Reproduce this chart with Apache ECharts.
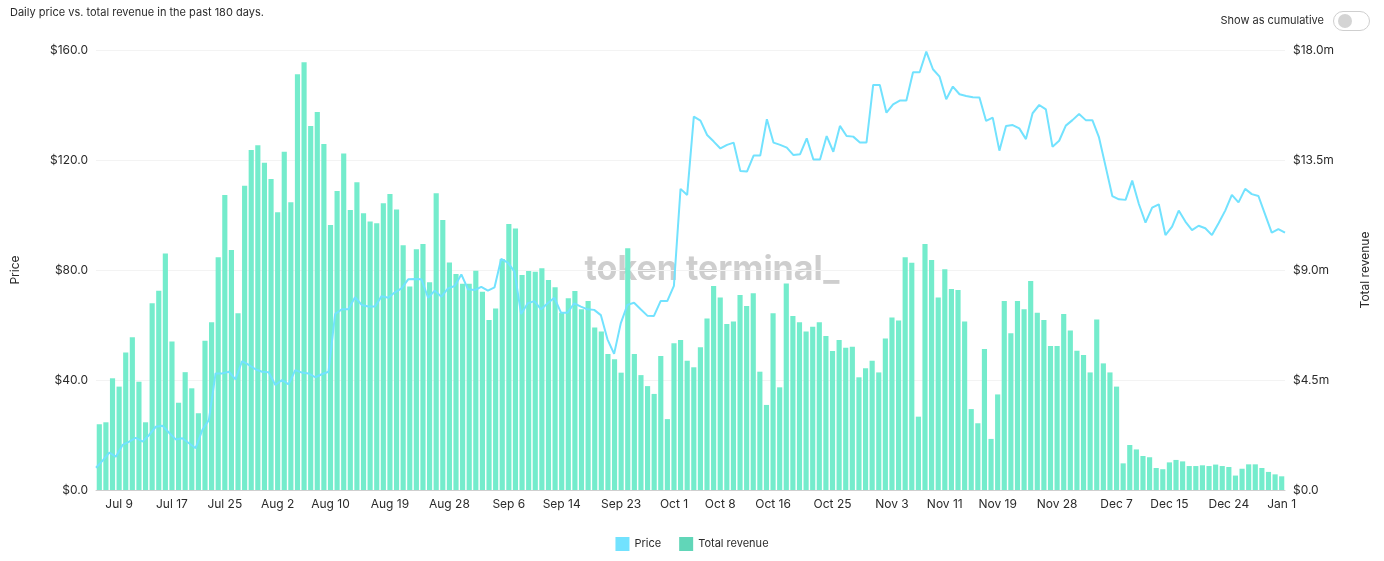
<!DOCTYPE html>
<html>
<head>
<meta charset="utf-8">
<script src="https://cdn.jsdelivr.net/npm/echarts@6/dist/echarts.min.js"></script>
<style>
html,body{margin:0;padding:0;background:#fff;}
#chart{width:1384px;height:561px;}
</style>
</head>
<body>
<div id="chart"></div>
<script>
// ---- data ----
const startDate = [2024, 6, 6]; // Jul 6 (month index 6 = July)
const dayCount = 180;
const tickLabels = ["Jul 9","Jul 17","Jul 25","Aug 2","Aug 10","Aug 19","Aug 28","Sep 6","Sep 14","Sep 23","Oct 1","Oct 8","Oct 16","Oct 25","Nov 3","Nov 11","Nov 19","Nov 28","Dec 7","Dec 15","Dec 24","Jan 1"];
const leftTicks = [0, 40, 80, 120, 160];
const rightTicks = [0, 4.5, 9, 13.5, 18];

// Total revenue, millions USD
const revenue = [
2.69,2.77,4.57,4.23,5.63,6.25,4.43,2.77,7.64,8.15,
9.68,6.07,3.57,4.82,4.16,3.14,6.11,6.86,9.52,12.07,
9.82,7.23,12.45,13.91,14.10,13.39,12.72,11.36,13.84,11.77,
17.01,17.50,14.89,15.46,14.15,10.84,12.23,13.77,11.45,12.59,
11.32,10.98,10.91,11.73,12.11,11.48,10.01,8.32,9.85,10.06,
8.50,12.14,11.05,9.31,8.84,8.44,8.44,8.97,8.11,6.95,
7.43,9.45,10.88,10.70,8.80,8.96,8.93,9.07,8.59,8.29,
7.25,7.84,8.14,7.39,7.73,6.65,6.48,5.56,5.35,4.80,
9.89,5.56,4.70,4.25,3.93,5.48,2.90,6.00,6.14,5.29,
5.02,5.84,7.02,8.35,7.88,6.79,6.89,7.98,7.53,8.05,
4.84,3.48,7.23,4.20,8.45,7.12,6.86,6.48,6.68,6.86,
6.30,5.69,6.14,5.82,5.86,4.61,4.98,5.29,4.81,6.20,
7.06,6.93,9.52,9.30,3.00,10.06,9.41,7.88,9.03,8.22,
8.18,6.89,3.31,2.73,5.77,2.09,3.91,7.73,6.41,7.73,
7.39,8.55,7.25,6.95,5.89,5.89,7.20,6.52,5.70,5.52,
4.81,6.98,5.18,4.81,4.23,1.09,1.84,1.66,1.39,1.34,
0.90,0.85,1.13,1.23,1.17,0.98,0.98,1.01,0.98,1.04,
0.98,0.94,0.59,0.87,1.05,1.05,0.90,0.74,0.64,0.56
];

// Daily price, USD
const price = [
8.1,10.7,13.6,12.1,16.4,17.6,19.0,17.6,20.0,23.0,
23.4,20.8,18.4,18.8,17.0,15.2,21.8,25.5,42.4,42.4,
43.0,40.2,46.9,45.5,43.9,43.0,42.8,38.2,40.0,38.4,
43.6,42.7,42.4,41.0,42.1,43.0,64.0,65.7,65.7,70.1,
67.3,66.7,66.7,70.5,69.9,71.9,73.3,76.6,76.7,76.6,
69.9,72.5,70.3,73.3,74.2,78.4,73.0,72.7,73.9,72.5,
73.7,84.0,82.7,79.4,64.0,67.9,68.7,65.7,67.9,69.9,
64.5,64.5,67.9,66.7,65.7,65.5,63.6,54.8,49.5,60.6,
67.3,68.1,65.7,63.4,63.3,68.7,68.7,74.2,109.5,107.3,
135.8,134.3,129.1,126.7,124.2,125.5,126.3,116.0,115.8,121.6,
121.6,134.8,126.3,125.5,124.5,121.8,122.1,127.9,120.2,120.2,
128.7,123.0,132.4,128.7,128.5,126.4,126.4,147.3,147.3,137.2,
140.2,141.6,141.6,151.9,151.9,159.4,153.0,150.3,142.1,146.7,
143.9,143.3,142.8,142.7,134.2,135.4,123.4,132.4,132.7,131.5,
127.6,137.0,140.0,138.4,124.8,127.0,132.5,134.5,136.7,134.5,
134.5,128.2,117.6,106.9,105.7,105.5,112.5,104.0,97.2,102.7,
103.9,92.7,95.8,101.6,97.6,94.5,96.1,95.2,92.7,97.0,
101.6,107.3,104.6,109.5,107.6,106.9,100.2,93.6,94.9,93.6
];

const monthNames = ["Jan","Feb","Mar","Apr","May","Jun","Jul","Aug","Sep","Oct","Nov","Dec"];
const categories = [];
for (let i = 0; i < dayCount; i++) {
  const d = new Date(Date.UTC(startDate[0], startDate[1], startDate[2] + i));
  categories.push(monthNames[d.getUTCMonth()] + " " + d.getUTCDate());
}

const FONT = "Inter, 'Noto Sans', sans-serif";
const TXT = "#2b2b2b";
const PRICE_COLOR = "#72E2FE";
const BAR_COLOR = "#74ECCC";
const BAR_LEGEND = "#61D6B8";

const chart = echarts.init(document.getElementById('chart'), null, {renderer: 'canvas'});
chart.setOption({
  animation: false,
  backgroundColor: '#fff',
  textStyle: {fontFamily: FONT},
  grid: {left: 96, right: 99, top: 50, bottom: 71, containLabel: false},
  legend: {
    bottom: 5,
    left: 'center',
    icon: 'rect',
    itemWidth: 14,
    itemHeight: 14,
    itemGap: 18,
    textStyle: {fontFamily: FONT, fontSize: 11, color: TXT},
    data: [
      {name: 'Price', itemStyle: {color: PRICE_COLOR}},
      {name: 'Total revenue', itemStyle: {color: BAR_LEGEND}}
    ]
  },
  xAxis: [{
    type: 'category',
    data: categories,
    boundaryGap: true,
    axisLine: {lineStyle: {color: '#cfcfcf', width: 1}},
    axisTick: {show: false},
    axisLabel: {
      color: TXT, fontFamily: FONT, fontSize: 12, margin: 8,
      interval: function (idx, val) { return tickLabels.indexOf(val) >= 0; }
    },
    splitLine: {show: false}
  }, {
    type: 'category',
    data: categories,
    boundaryGap: false,
    show: false
  }],
  yAxis: [{
    type: 'value',
    min: leftTicks[0], max: leftTicks[leftTicks.length - 1], interval: 40,
    position: 'left',
    name: 'Price',
    nameLocation: 'middle',
    nameGap: 75,
    nameTextStyle: {color: TXT, fontSize: 12, fontFamily: FONT},
    axisLine: {show: false},
    axisTick: {show: false},
    axisLabel: {color: TXT, fontSize: 12, fontFamily: FONT, margin: 8,
      formatter: v => '$' + v.toFixed(1)},
    splitLine: {lineStyle: {color: '#f3f3f3', width: 1}}
  }, {
    type: 'value',
    min: rightTicks[0], max: rightTicks[rightTicks.length - 1], interval: 4.5,
    position: 'right',
    name: 'Total revenue',
    nameLocation: 'middle',
    nameGap: 74,
    nameTextStyle: {color: TXT, fontSize: 12, fontFamily: FONT},
    axisLine: {show: false},
    axisTick: {show: false},
    axisLabel: {color: TXT, fontSize: 12, fontFamily: FONT, margin: 8,
      formatter: v => v === 0 ? '$0.0' : '$' + v.toFixed(1) + 'm'},
    splitLine: {show: false}
  }],
  graphic: [
    {type: 'text', left: 10, top: 7, z: 10,
     style: {text: 'Daily price vs. total revenue in the past 180 days.', fill: TXT, font: '11px ' + FONT}},
    {type: 'text', right: 60, top: 15, z: 10,
     style: {text: 'Show as cumulative', fill: TXT, font: '11px ' + FONT}},
    {type: 'rect', shape: {x: 1333.5, y: 11.5, width: 36, height: 19, r: 9.5}, z: 10,
     style: {fill: '#fff', stroke: '#cfcfcf', lineWidth: 1}},
    {type: 'circle', shape: {cx: 1345, cy: 21, r: 7}, z: 11,
     style: {fill: '#d4d4d4'}},
    {type: 'text', x: 712, y: 270, z: 0, silent: true,
     style: {text: 'token terminal_', fill: 'rgba(190,190,190,0.75)', font: 'bold 34px ' + FONT,
             textAlign: 'center', textVerticalAlign: 'middle'}}
  ],
  series: [{
    name: 'Total revenue',
    type: 'bar',
    xAxisIndex: 0,
    yAxisIndex: 1,
    data: revenue,
    barCategoryGap: '22%',
    itemStyle: {color: BAR_COLOR},
    z: 2
  }, {
    name: 'Price',
    type: 'line',
    xAxisIndex: 1,
    yAxisIndex: 0,
    data: price,
    showSymbol: false,
    symbol: 'none',
    lineStyle: {color: PRICE_COLOR, width: 2},
    itemStyle: {color: PRICE_COLOR},
    z: 3
  }]
});
</script>
</body>
</html>
